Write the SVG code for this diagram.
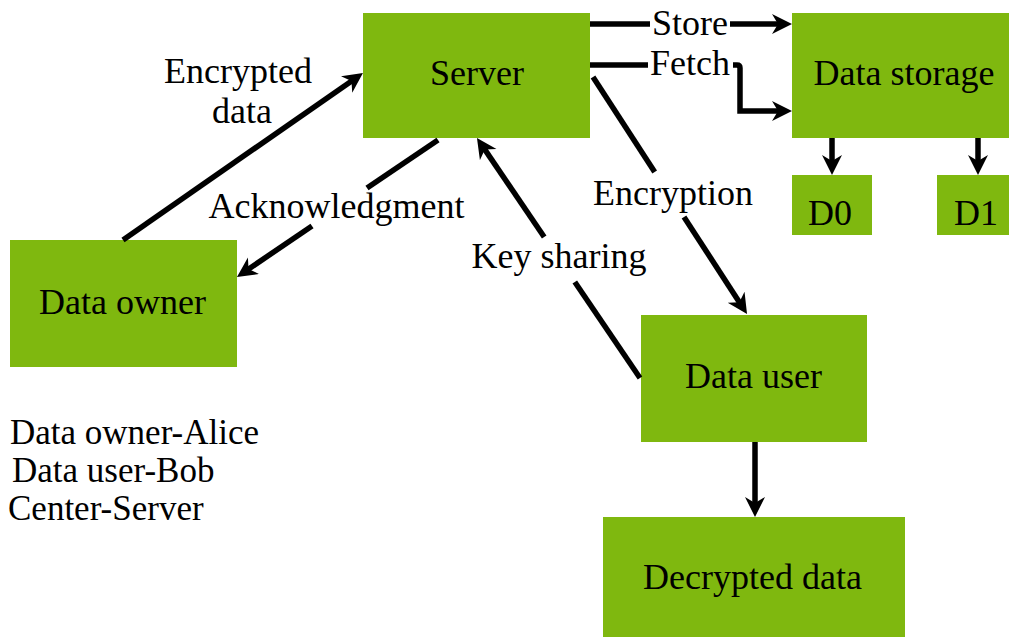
<svg xmlns="http://www.w3.org/2000/svg" width="1009" height="637" viewBox="0 0 1009 637">
  <style>
    .box { fill: #7fb80f; }
    .c { text-anchor: middle; }
    .edge { fill: none; stroke: #000; stroke-width: 5.5; }
  </style>
  <defs>
    <marker id="arrow" markerUnits="userSpaceOnUse" markerWidth="22" markerHeight="22" refX="8" refY="10" orient="auto" viewBox="0 0 22 22">
      <path d="M0,0 L20,10 L0,20 L6,10 z" fill="#000"/>
    </marker>
  </defs>

  <rect width="1009" height="637" fill="#fff"/>

  <g font-family="'Liberation Serif', Tinos, 'Times New Roman', 'DejaVu Serif', serif" font-size="36" fill="#000">
    <g id="server">
      <rect class="box" x="363" y="13" width="227" height="125"/>
      <text class="c" x="477" y="85">Server</text>
    </g>
    <g id="data-storage">
      <rect class="box" x="792" y="13" width="217" height="125"/>
      <text class="c" x="904" y="85">Data storage</text>
    </g>
    <g id="d0">
      <rect class="box" x="792" y="175" width="80" height="60"/>
      <text class="c" x="830" y="225">D0</text>
    </g>
    <g id="d1">
      <rect class="box" x="937" y="175" width="72" height="60"/>
      <text class="c" x="976" y="225">D1</text>
    </g>
    <g id="data-owner">
      <rect class="box" x="10" y="240" width="227" height="127"/>
      <text class="c" x="122.5" y="314">Data owner</text>
    </g>
    <g id="data-user">
      <rect class="box" x="641" y="315" width="226" height="127"/>
      <text class="c" x="753.5" y="388">Data user</text>
    </g>
    <g id="decrypted-data">
      <rect class="box" x="603" y="517" width="302" height="120"/>
      <text class="c" x="752.5" y="589">Decrypted data</text>
    </g>

    <g id="connectors">
      <!-- owner to server -->
      <line class="edge" x1="123" y1="240" x2="353.1" y2="79.9" marker-end="url(#arrow)"/>
      <!-- server to owner, split around its label -->
      <line class="edge" x1="438" y1="140" x2="367" y2="188"/>
      <line class="edge" x1="312" y1="226" x2="246.9" y2="270.2" marker-end="url(#arrow)"/>
      <!-- user to server -->
      <line class="edge" x1="640" y1="378" x2="574.8" y2="282"/>
      <line class="edge" x1="544.2" y1="237" x2="483.7" y2="147.9" marker-end="url(#arrow)"/>
      <!-- server to user -->
      <line class="edge" x1="593" y1="77" x2="654.7" y2="172"/>
      <line class="edge" x1="684" y1="217" x2="740.5" y2="303.9" marker-end="url(#arrow)"/>
      <!-- store -->
      <line class="edge" x1="590" y1="24" x2="650" y2="24"/>
      <line class="edge" x1="730" y1="24" x2="780" y2="24" marker-end="url(#arrow)"/>
      <!-- fetch -->
      <line class="edge" x1="590" y1="65" x2="648" y2="65"/>
      <path class="edge" d="M733,65 H737 Q740,65 740,68 V111 H780" marker-end="url(#arrow)"/>
      <!-- storage to partitions -->
      <line class="edge" x1="832" y1="138" x2="832" y2="163" marker-end="url(#arrow)"/>
      <line class="edge" x1="978" y1="138" x2="978" y2="163" marker-end="url(#arrow)"/>
      <!-- user to decrypted data -->
      <line class="edge" x1="755" y1="442" x2="755" y2="505" marker-end="url(#arrow)"/>
    </g>

    <g id="labels">
      <text class="c" x="238" y="83">Encrypted</text>
      <text class="c" x="242" y="123">data</text>
      <text class="c" x="336.5" y="218">Acknowledgment</text>
      <text class="c" x="559" y="268">Key sharing</text>
      <text class="c" x="673" y="205">Encryption</text>
      <text class="c" x="690" y="35">Store</text>
      <text class="c" x="690" y="75">Fetch</text>
    </g>

    <g id="legend" font-size="35">
      <text x="10" y="444">Data owner-Alice</text>
      <text x="12" y="482">Data user-Bob</text>
      <text x="8" y="520">Center-Server</text>
    </g>
  </g>
</svg>
